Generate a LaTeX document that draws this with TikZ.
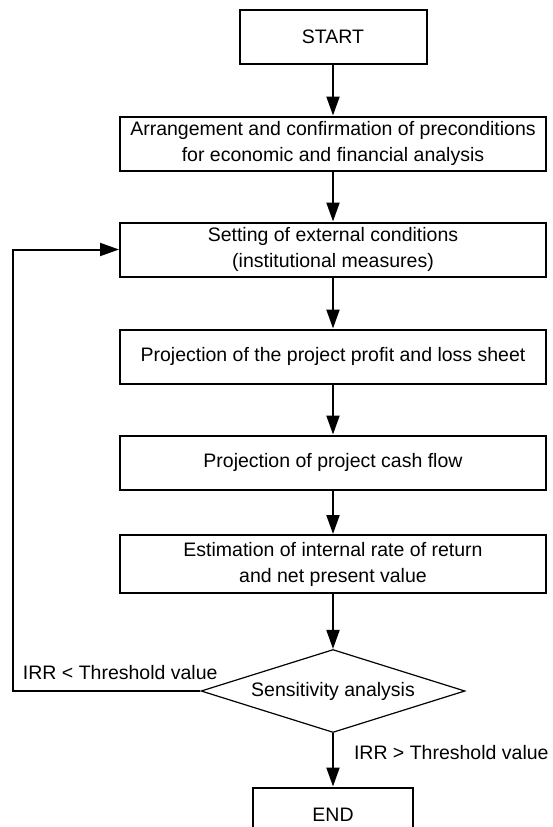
\documentclass[tikz,border=0pt]{standalone}
\usepackage{fontspec}
\setmainfont{Liberation Sans}
\usetikzlibrary{arrows.meta,shapes.geometric}

\begin{document}
\begin{tikzpicture}[x=1pt, y=-1pt, node distance=106pt,
  font=\fontsize{19.5}{26}\selectfont,
  box/.style={rectangle, draw, line width=2pt, align=center, minimum width=426pt, minimum height=54pt, inner sep=0pt},
  flow/.style={line width=2pt, -{Triangle[length=19pt, width=13pt]}}]
\useasboundingbox (0,0) rectangle (552,827);
\node (start) [box, minimum width=187pt] at (333,36.5) {START};
\node (prep) [box, below of=start, node distance=107pt] {Arrangement and confirmation of preconditions\\for economic and financial analysis};
\node (ext) [box, below of=prep] {Setting of external conditions\\(institutional measures)};
\node (pl) [box, below of=ext, node distance=107pt] {Projection of the project profit and loss sheet};
\node (cash) [box, below of=pl] {Projection of project cash flow};
\node (irr) [box, below of=cash, node distance=101.5pt, minimum height=58pt] {Estimation of internal rate of return\\and net present value};
\node (sens) [diamond, aspect=3.18, draw, line width=1.2pt, inner sep=0pt, minimum width=264pt, minimum height=83pt, below of=irr, node distance=127pt] {Sensitivity analysis};
\node (end) [box, minimum width=160pt, below of=sens, node distance=123.5pt] {END};
\coordinate (loop) at (13,691);
\draw [flow] (start) -- (prep);
\draw [flow] (prep) -- (ext);
\draw [flow] (ext) -- (pl);
\draw [flow] (pl) -- (cash);
\draw [flow] (cash) -- (irr);
\draw [flow] (irr) -- (sens);
\draw [flow] (sens) -- node[anchor=base west, inner sep=0pt, xshift=20pt] {IRR > Threshold value} (end);
% back to the external conditions when the IRR is too low
\draw [flow] (sens.west) -- (loop) node[anchor=base west, inner sep=0pt, xshift=9pt, yshift=12pt] {IRR < Threshold value} |- (ext.west);
\end{tikzpicture}
\end{document}
